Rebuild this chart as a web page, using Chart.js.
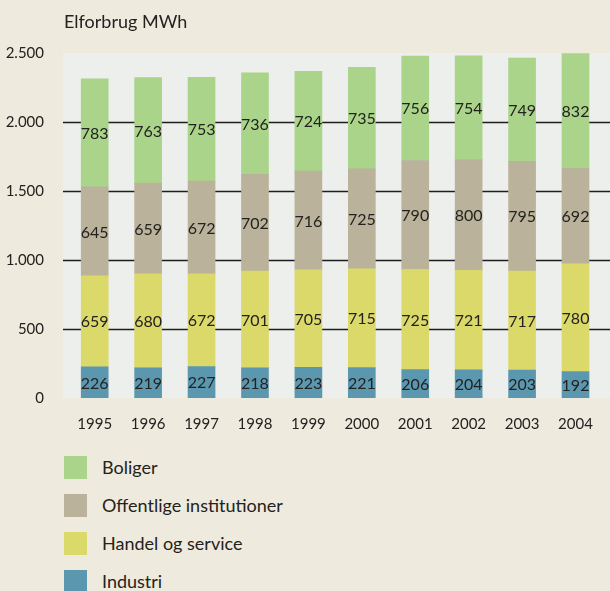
<!DOCTYPE html>
<html>
<head>
<meta charset="utf-8">
<script src="https://cdn.jsdelivr.net/npm/chart.js@4.4.1/dist/chart.umd.min.js"></script>
<style>
    html, body { margin: 0; padding: 0; background: #eeeadd; }
    body { width: 610px; height: 591px; position: relative; overflow: hidden; font-family: 'Lato', sans-serif; color: #242220; }
    .title { position: absolute; left: 64px; top: 10px; font-size: 18px; }
    .chart-box { position: absolute; left: 0; top: 0; width: 610px; height: 445px; }
    .legend { position: absolute; left: 64px; top: 448px; }
    .legend-item { display: flex; align-items: center; height: 38px; font-size: 18px; }
    .legend-item span.box { width: 23px; height: 23px; margin-right: 15px; display: inline-block; }
</style>
</head>
<body>
<div class="chart-box"><canvas id="chart" width="610" height="445"></canvas></div>
<div class="title">Elforbrug MWh</div>
<div class="legend" id="legend"></div>
<script>
// Data
const years = ['1995', '1996', '1997', '1998', '1999', '2000', '2001', '2002', '2003', '2004'];
const industri = [226, 219, 227, 218, 223, 221, 206, 204, 203, 192];
const handel = [659, 680, 672, 701, 705, 715, 725, 721, 717, 780];
const offentlige = [645, 659, 672, 702, 716, 725, 790, 800, 795, 692];
const boliger = [783, 763, 753, 736, 724, 735, 756, 754, 749, 832];
const yTicks = [0, 500, 1000, 1500, 2000, 2500];

const textColor = '#242220';

// baggrund i plotområdet + gitterlinjer (tegnes bag søjlerne)
const plotBg = {
    id: 'plotBg',
    beforeDatasetsDraw(chart) {
        const { ctx, chartArea, scales } = chart;
        const left = chartArea.left - 5;
        const right = chart.width;
        ctx.save();
        ctx.fillStyle = '#ecefeb';
        ctx.fillRect(left, chartArea.top, right - left, chartArea.bottom - chartArea.top);
        ctx.strokeStyle = '#1e1e1e';
        ctx.lineWidth = 1.5;
        yTicks.slice(1, -1).forEach(v => {
            const y = Math.round(scales.y.getPixelForValue(v)) + 0.5;
            ctx.beginPath();
            ctx.moveTo(left, y);
            ctx.lineTo(right, y);
            ctx.stroke();
        });
        ctx.restore();
    }
};

// tal midt i hver søjle
const barLabels = {
    id: 'barLabels',
    afterDatasetsDraw(chart) {
        const { ctx } = chart;
        ctx.save();
        ctx.font = "16px 'Lato', sans-serif";
        ctx.fillStyle = textColor;
        ctx.textAlign = 'center';
        ctx.textBaseline = 'middle';
        chart.data.datasets.forEach((ds, i) => {
            chart.getDatasetMeta(i).data.forEach((bar, j) => {
                const mid = (bar.y + bar.base) / 2;
                ctx.fillText(ds.data[j], bar.x, mid + 1);
            });
        });
        ctx.restore();
    }
};

const datasets = [
    { label: 'Industri', data: industri, backgroundColor: '#5b98b0' },
    { label: 'Handel og service', data: handel, backgroundColor: '#dbd96a' },
    { label: 'Offentlige institutioner', data: offentlige, backgroundColor: '#bab29a' },
    { label: 'Boliger', data: boliger, backgroundColor: '#a9d48a' }
];

const chart = new Chart(document.getElementById('chart').getContext('2d'), {
    type: 'bar',
    data: { labels: years, datasets: datasets },
    options: {
        responsive: false,
        animation: false,
        layout: { padding: { top: 53, right: 2, left: 0, bottom: 0 } },
        datasets: { bar: { barThickness: 27 } },
        plugins: { legend: { display: false }, tooltip: { enabled: false } },
        scales: {
            x: {
                stacked: true,
                grid: { display: false, drawTicks: false },
                border: { display: false },
                ticks: { color: textColor, font: { family: 'Lato', size: 15 }, padding: 17, maxRotation: 0 },
                afterFit(scale) { scale.height = 47; }
            },
            y: {
                stacked: true,
                min: 0,
                max: 2500,
                grid: { display: false, drawTicks: false },
                border: { display: false },
                afterBuildTicks(scale) { scale.ticks = yTicks.map(v => ({ value: v })); },
                ticks: {
                    color: textColor,
                    font: { family: 'Lato', size: 15 },
                    padding: 24,
                    callback: v => v.toLocaleString('da-DK')
                },
                afterFit(scale) { scale.width = 68; }
            }
        }
    },
    plugins: [plotBg, barLabels]
});

// forklaring, omvendt rækkefølge som i stakken
const legend = document.getElementById('legend');
datasets.slice().reverse().forEach(ds => {
    const item = document.createElement('div');
    item.className = 'legend-item';
    item.innerHTML = `<span class="box" style="background:${ds.backgroundColor}"></span>${ds.label}`;
    legend.appendChild(item);
});
</script>
</body>
</html>
